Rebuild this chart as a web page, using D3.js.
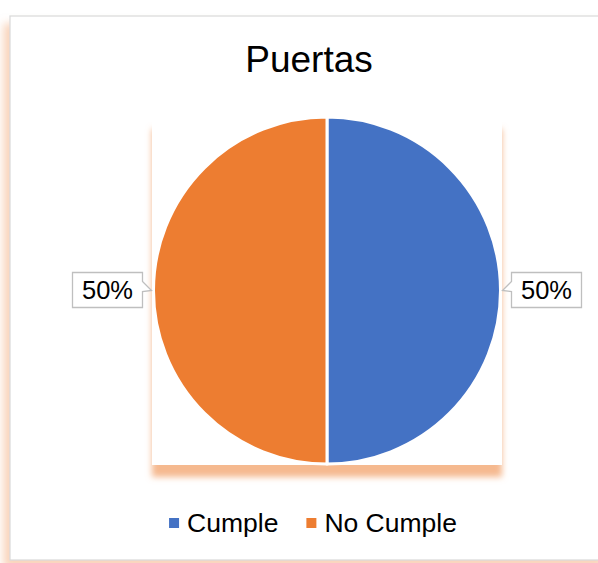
<!DOCTYPE html>
<html>
<head>
<meta charset="utf-8">
<script src="https://cdn.jsdelivr.net/npm/d3@7"></script>
<style>
  html, body { margin: 0; padding: 0; background: #ffffff; }
  svg { display: block; }
  text { font-family: "Liberation Sans", Arial, sans-serif; fill: #000; }
</style>
</head>
<body>
<svg id="chart" width="598" height="563"></svg>
<script>
const title = "Puertas";
const categories = ["Cumple", "No Cumple"];
const values = [50, 50];
const colors = ["#4472C4", "#ED7D31"];

const W = 598, H = 563;
const svg = d3.select("#chart");
const defs = svg.append("defs");

const f1 = defs.append("filter").attr("id", "frameShadow")
  .attr("x", "-10%").attr("y", "-10%").attr("width", "120%").attr("height", "120%");
f1.append("feDropShadow").attr("dx", -6).attr("dy", 8).attr("stdDeviation", 4)
  .attr("flood-color", "#f4b183").attr("flood-opacity", 0.55);

const f2 = defs.append("filter").attr("id", "plotShadow")
  .attr("x", "-10%").attr("y", "-10%").attr("width", "120%").attr("height", "120%");
f2.append("feDropShadow").attr("dx", 0).attr("dy", 12).attr("stdDeviation", 3)
  .attr("flood-color", "#f4b183").attr("flood-opacity", 0.9);

// chart frame
svg.append("rect").attr("x", 10).attr("y", 16).attr("width", 600).attr("height", 544)
  .attr("fill", "#fff").attr("stroke", "#d9d9d9").attr("stroke-width", 1.2)
  .attr("filter", "url(#frameShadow)");

// title
svg.append("text").attr("x", 309).attr("y", 72).attr("text-anchor", "middle")
  .attr("font-size", 37).text(title);

// plot area
svg.append("rect").attr("x", 152).attr("y", 117).attr("width", 350).attr("height", 348)
  .attr("fill", "#fff").attr("filter", "url(#plotShadow)");

const cx = 327, cy = 290.5, r = 173.5;
const pie = d3.pie().sort(null).value(d => d.v).startAngle(0).endAngle(2 * Math.PI);
const data = pie(categories.map((c, i) => ({ c, v: values[i], col: colors[i] })));
const arc = d3.arc().innerRadius(0).outerRadius(r);

const g = svg.append("g").attr("transform", `translate(${cx},${cy})`);
g.selectAll("path.slice").data(data).join("path")
  .attr("class", "slice")
  .attr("d", arc)
  .attr("fill", d => d.data.col)
  .attr("stroke", "#fff").attr("stroke-width", 3).attr("stroke-linejoin", "round");

// data labels with callouts
const total = d3.sum(values);
const bw = 70, bh = 35;
data.forEach(d => {
  const mid = (d.startAngle + d.endAngle) / 2;
  const sx = Math.sin(mid), sy = -Math.cos(mid);
  const lx = cx + sx * (r + 46);
  const ly = cy + sy * (r + 46) - 0.5;
  const tipx = cx + sx * (r + 2);
  const tipy = cy + sy * (r + 2);
  const x0 = lx - bw / 2, x1 = lx + bw / 2, y0 = ly - bh / 2, y1 = ly + bh / 2;
  let p;
  if (sx > 0) {
    p = `M${x0},${y0} H${x1} V${y1} H${x0} V${tipy + 1} L${tipx},${tipy} L${x0},${y0 + 9} Z`;
  } else {
    p = `M${x0},${y0} H${x1} V${y0 + 9} L${tipx},${tipy} L${x1},${tipy + 1} V${y1} H${x0} Z`;
  }
  svg.append("path").attr("d", p).attr("fill", "#fff")
    .attr("stroke", "#bfbfbf").attr("stroke-width", 1.3);
  svg.append("text").attr("x", lx).attr("y", ly + 9).attr("text-anchor", "middle")
    .attr("font-size", 25.5).text(Math.round(d.data.v / total * 100) + "%");
});

// legend
const legend = svg.append("g");
const fs = 26.5, sq = 10, gapSq = 8, gapItem = 28;
let x = 0;
categories.forEach((c, i) => {
  const it = legend.append("g");
  it.append("rect").attr("x", x).attr("y", -14).attr("width", sq).attr("height", sq).attr("fill", colors[i]);
  const t = it.append("text").attr("x", x + sq + gapSq).attr("y", 0).attr("font-size", fs).text(c);
  x += sq + gapSq + t.node().getComputedTextLength() + gapItem;
});
const lw = x - gapItem;
legend.attr("transform", `translate(${313 - lw / 2},532)`);
</script>
</body>
</html>
